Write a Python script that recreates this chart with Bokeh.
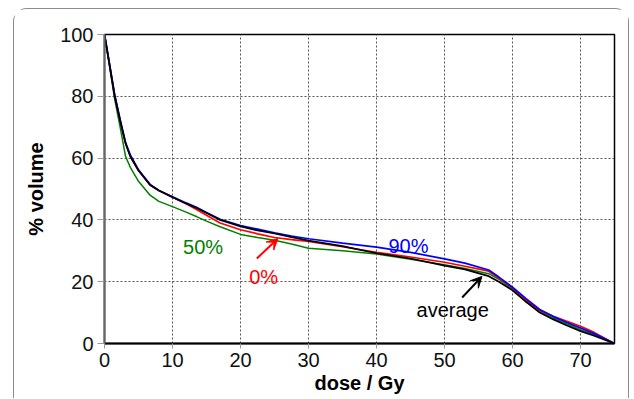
from bokeh.plotting import figure
from bokeh.models import Range1d, Arrow, VeeHead, FixedTicker
from bokeh.core.properties import value
from bokeh.embed import file_html
from bokeh.resources import INLINE

# ---- data ----
dose = [0, 0.5, 1.5, 2.3, 3.1, 3.8, 5, 6.7, 8, 10, 12, 13.6, 15, 17, 20, 22.5, 25,
        27.5, 30, 35, 40, 45, 50, 53, 56.5, 58, 60, 62, 64, 66, 68, 70, 72, 75]
vol_avg = [100, 93.5, 80, 72, 64.7, 60.5, 56, 51.3, 49.5, 47.3, 45.3, 43.8, 42.2, 40,
           37.9, 36.6, 35.6, 34.4, 33.3, 31.5, 29.2, 27.5, 25.2, 24.0, 21.8, 20.0, 17.2,
           13.5, 10.0, 7.8, 5.8, 4.0, 2.5, 0]
vol_90 = [100, 93.5, 80.5, 72.5, 65, 61, 56.2, 51.5, 49.5, 47.5, 45.5, 44, 42.4, 40.2,
          38.2, 37, 35.8, 34.8, 33.9, 32.5, 31.2, 29.5, 27.4, 26.0, 23.8, 21.5, 18.2,
          14.5, 11.0, 8.7, 6.8, 5.0, 3.2, 0]
vol_0 = [100, 93.5, 80.2, 72.2, 64.8, 60.5, 56, 51.3, 49.5, 47.3, 45.2, 43.3, 41.5, 39,
         36.8, 35.5, 34.3, 33.6, 33.0, 31.3, 29.5, 28.0, 26.3, 25.0, 23.4, 21.2, 18.0,
         14.0, 10.8, 8.8, 7.2, 5.6, 3.6, 0]
vol_50 = [100, 93, 79, 70, 60.5, 57, 52.5, 48, 46, 44.3, 42.5, 41, 39.6, 37.8, 35.3,
          34.3, 33.4, 32.2, 30.8, 30.0, 29.0, 27.3, 25.5, 24.3, 22.6, 20.8, 17.5, 13.5,
          10.5, 8.2, 6.3, 4.5, 2.8, 0]

x_ticks = [0, 10, 20, 30, 40, 50, 60, 70]
y_ticks = [0, 20, 40, 60, 80, 100]

labels = ["50%", "0%", "90%", "average"]
label_x = [14.5, 23.4, 44.7, 51.2]
label_y = [31.1, 21.4, 31.7, 10.8]
label_colors = ["#008000", "#ff0000", "#0000ff", "#000000"]

FONT = "Liberation Sans"

p = figure(width=616, height=390, output_backend="svg", toolbar_location=None,
           x_range=Range1d(0, 75), y_range=Range1d(0, 100),
           min_border_left=90, min_border_right=16, min_border_top=25,
           min_border_bottom=56)
p.styles = {"margin-left": "13px", "margin-top": "8px",
            "border-top": "1px solid #8c8c8c", "border-left": "1px solid #8c8c8c",
            "border-right": "1px solid #8c8c8c", "border-radius": "14px 14px 0 0"}

p.background_fill_color = "white"
p.border_fill_color = "white"
p.outline_line_color = "black"
p.outline_line_width = 1.5

# grid
p.xgrid.ticker = FixedTicker(ticks=[10, 20, 30, 40, 50, 60, 70])
p.ygrid.ticker = FixedTicker(ticks=[20, 40, 60, 80])
for g in (p.xgrid, p.ygrid):
    g.grid_line_color = "#555555"
    g.grid_line_dash = "2 2"
    g.grid_line_width = 1

# axes
p.xaxis.ticker = FixedTicker(ticks=x_ticks)
p.yaxis.ticker = FixedTicker(ticks=y_ticks)
p.xaxis.axis_label = "dose / Gy"
p.yaxis.axis_label = "% volume"
for ax in (p.xaxis, p.yaxis):
    ax.axis_label_text_font = FONT
    ax.axis_label_text_font_style = "bold"
    ax.axis_label_text_font_size = "20px"
    ax.axis_label_text_color = "black"
    ax.major_label_text_font = FONT
    ax.major_label_text_font_size = "20px"
    ax.major_label_text_color = "#111111"
    ax.minor_tick_line_color = None
    ax.major_tick_in = 0
    ax.major_tick_line_color = "#999999"
    ax.axis_line_width = 2
p.xaxis.axis_line_color = "black"
p.yaxis.axis_line_color = "#666666"
p.xaxis.major_tick_out = 5
p.yaxis.major_tick_out = 7
p.xaxis.major_label_standoff = 4
p.yaxis.major_label_standoff = 4
p.xaxis.axis_label_standoff = 2
p.yaxis.axis_label_standoff = 10

# curves
p.line(dose, vol_50, line_color="#008000", line_width=1.5)
p.line(dose, vol_0, line_color="#ff0000", line_width=1.7)
p.line(dose, vol_90, line_color="#0000ff", line_width=1.7)
p.line(dose, vol_avg, line_color="#000000", line_width=1.7)

# labels
p.text(x=label_x, y=label_y, text=labels, text_color=label_colors,
       text_font=value(FONT), text_font_size="20px", text_align="center",
       text_baseline="alphabetic")

# arrows
p.add_layout(Arrow(x_start=22.4, y_start=27.5, x_end=25.5, y_end=34.0,
                   line_color="#ff0000", line_width=2,
                   end=VeeHead(size=11, fill_color="#ff0000", line_color="#ff0000")))
p.add_layout(Arrow(x_start=52.6, y_start=14.9, x_end=55.5, y_end=21.7,
                   line_color="black", line_width=2,
                   end=VeeHead(size=11, fill_color="black", line_color="black")))

open("out.html", "w").write(file_html(p, INLINE))
